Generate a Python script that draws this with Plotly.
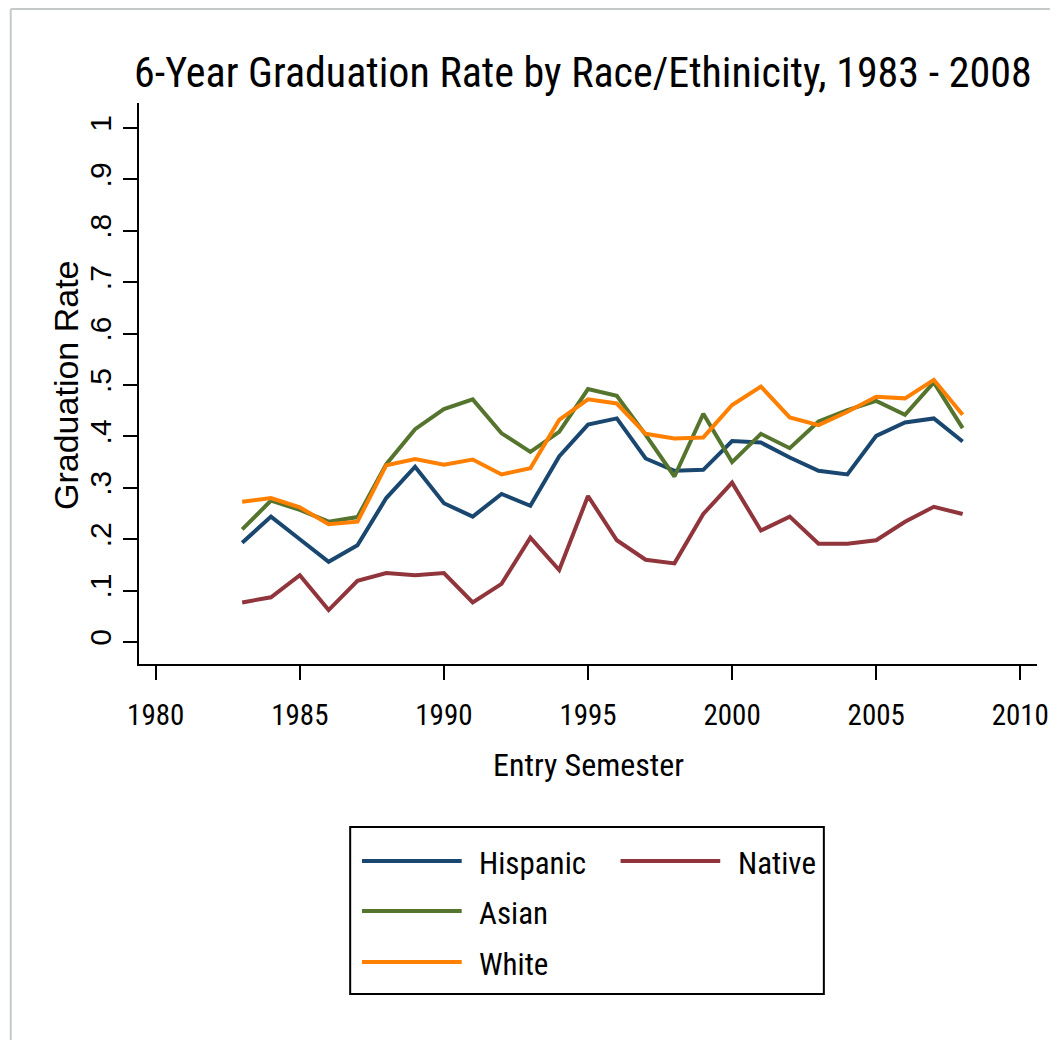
import plotly.graph_objects as go

years = list(range(1983, 2009))
hispanic = [0.193, 0.244, 0.200, 0.156, 0.188, 0.280, 0.341, 0.270, 0.244, 0.288, 0.265, 0.361,
            0.423, 0.435, 0.357, 0.333, 0.335, 0.391, 0.388, 0.359, 0.333, 0.326, 0.401, 0.427,
            0.435, 0.390]
native = [0.077, 0.087, 0.130, 0.062, 0.119, 0.134, 0.130, 0.134, 0.077, 0.113, 0.203, 0.140,
          0.284, 0.198, 0.160, 0.153, 0.249, 0.310, 0.217, 0.244, 0.191, 0.191, 0.198, 0.234,
          0.263, 0.249]
asian = [0.219, 0.275, 0.257, 0.234, 0.243, 0.346, 0.414, 0.453, 0.472, 0.406, 0.370, 0.409,
         0.492, 0.479, 0.403, 0.322, 0.444, 0.350, 0.405, 0.377, 0.429, 0.451, 0.469, 0.442,
         0.505, 0.416]
white = [0.273, 0.280, 0.262, 0.229, 0.234, 0.344, 0.356, 0.345, 0.355, 0.326, 0.338, 0.432,
         0.472, 0.464, 0.405, 0.396, 0.398, 0.461, 0.497, 0.437, 0.422, 0.448, 0.477, 0.474,
         0.510, 0.442]

series_names = ["Hispanic", "Native", "Asian", "White"]
series_values = [hispanic, native, asian, white]
series_colors = ["#1a476f", "#90353b", "#55752f", "#ff8000"]

x_ticks = [1980, 1985, 1990, 1995, 2000, 2005, 2010]
y_ticks = [0, 0.1, 0.2, 0.3, 0.4, 0.5, 0.6, 0.7, 0.8, 0.9, 1]
y_tick_text = ["0", ".1", ".2", ".3", ".4", ".5", ".6", ".7", ".8", ".9", "1"]

title_text = "6-Year Graduation Rate by Race/Ethinicity, 1983 - 2008"
x_title = "Entry Semester"
y_title = "Graduation Rate"

OFF = 8  # page body margin
W, H = 1062 - 2 * OFF, 1040 - OFF
# plot area in page pixels: left 139, right 1049, top 103, bottom 664
PL, PR, PT, PB = 139, 1049, 103, 664
L, T = PL - OFF, PT - OFF
PW, PH = PR - PL, PB - PT
R, B = W - L - PW, H - T - PH

NARROW = "Liberation Sans Narrow, Arial Narrow, Roboto Condensed, Liberation Sans, Arial, sans-serif"
REG = "Liberation Sans, Arial, sans-serif"


def px(x):
    return (x - PL) / PW


def py(y):
    return (PB - y) / PH


fig = go.Figure()
for name, vals, col in zip(series_names, series_values, series_colors):
    fig.add_trace(go.Scatter(x=years, y=vals, mode="lines", name=name,
                             line=dict(color=col, width=4), showlegend=False))

shapes = []
annotations = []

# page border (light gray)
shapes.append(dict(type="line", xref="paper", yref="paper", x0=px(OFF + 1), x1=px(1062), y0=py(OFF + 1), y1=py(OFF + 1),
                   line=dict(color="#c4c8c8", width=2)))
shapes.append(dict(type="line", xref="paper", yref="paper", x0=px(OFF + 1), x1=px(OFF + 1), y0=py(OFF + 1), y1=py(1040),
                   line=dict(color="#c4c8c8", width=2)))

# title
annotations.append(dict(text=title_text, xref="paper", yref="paper", x=px(132), y=py(72),
                        xanchor="left", yanchor="middle", showarrow=False,
                        font=dict(family=NARROW, size=42, color="black")))
# axis titles
annotations.append(dict(text=x_title, xref="paper", yref="paper", x=px(594), y=py(765),
                        xanchor="center", yanchor="middle", showarrow=False,
                        font=dict(family=NARROW, size=32, color="black")))
annotations.append(dict(text=y_title, xref="paper", yref="paper", x=px(65), y=py(385),
                        xanchor="center", yanchor="middle", showarrow=False, textangle=-90,
                        font=dict(family=REG, size=34, color="black")))

# legend box (manual, column-major like the original)
shapes.append(dict(type="rect", xref="paper", yref="paper", x0=px(353), x1=px(833), y0=py(827), y1=py(994),
                   line=dict(color="black", width=2), fillcolor="white"))
legend_pos = {"Hispanic": (365, 861), "Asian": (365, 911), "White": (365, 962), "Native": (627, 861)}
for name, col in zip(series_names, series_colors):
    lx, ly = legend_pos[name]
    shapes.append(dict(type="line", xref="paper", yref="paper", x0=px(lx), x1=px(lx + 101),
                       y0=py(ly), y1=py(ly), line=dict(color=col, width=4)))
    annotations.append(dict(text=name, xref="paper", yref="paper", x=px(lx + 117), y=py(ly + 2),
                            xanchor="left", yanchor="middle", showarrow=False,
                            font=dict(family=NARROW, size=31, color="black")))

fig.update_layout(
    width=W, height=H,
    margin=dict(l=L, r=R, t=T, b=B, pad=0),
    paper_bgcolor="white", plot_bgcolor="white",
    showlegend=False,
    shapes=shapes, annotations=annotations,
    xaxis=dict(range=[1979.42, 2010.58], tickmode="array", tickvals=x_ticks,
               ticks="outside", ticklen=14, tickwidth=2, tickcolor="black",
               showline=True, linecolor="black", linewidth=2, showgrid=False, zeroline=False,
               ticklabeloverflow="allow",
               tickfont=dict(family=NARROW, size=29, color="black"), ticklabelstandoff=10),
    yaxis=dict(range=[-0.0428, 1.0486], tickmode="array", tickvals=y_ticks, ticktext=y_tick_text,
               ticks="outside", ticklen=14, tickwidth=2, tickcolor="black", tickangle=-90,
               showline=True, linecolor="black", linewidth=2, showgrid=False, zeroline=False,
               tickfont=dict(family=REG, size=30, color="black"), ticklabelstandoff=0),
)

fig.write_html("out.html")
